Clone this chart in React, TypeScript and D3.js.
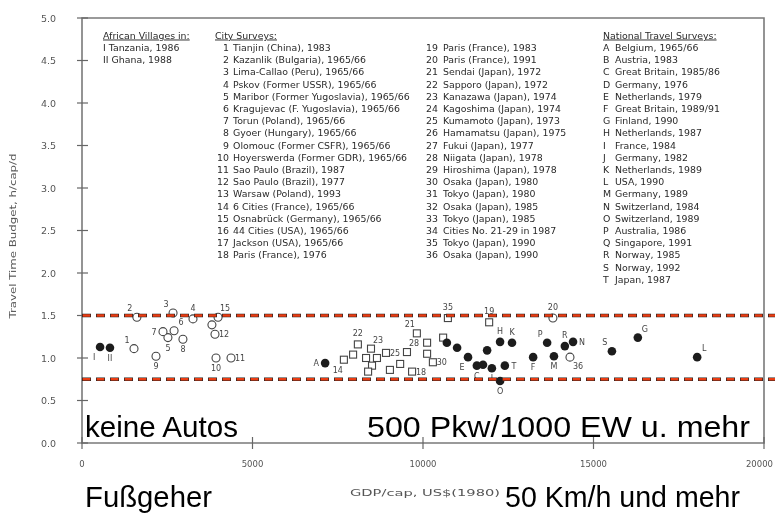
import React from 'react';
import * as d3 from 'd3';

// axis ticks
const yTicks = [0, 0.5, 1, 1.5, 2, 2.5, 3, 3.5, 4, 4.5, 5];
const xTicks = [0, 5000, 10000, 15000, 20000];
const bandLines = [1.5, 0.75];

// African villages (filled)
const villages = [
  { id: 'I', gdp: 530, ttb: 1.13 },
  { id: 'II', gdp: 820, ttb: 1.12 },
];

// city surveys drawn as open circles
const cityCircles = [
  { id: '1', gdp: 1525, ttb: 1.11 },
  { id: '2', gdp: 1610, ttb: 1.48 },
  { id: '3', gdp: 2670, ttb: 1.53 },
  { id: '4', gdp: 3255, ttb: 1.46 },
  { id: '5', gdp: 2520, ttb: 1.24 },
  { id: '6', gdp: 2700, ttb: 1.32 },
  { id: '7', gdp: 2375, ttb: 1.31 },
  { id: '8', gdp: 2960, ttb: 1.22 },
  { id: '9', gdp: 2170, ttb: 1.02 },
  { id: '10', gdp: 3930, ttb: 1.0 },
  { id: '11', gdp: 4370, ttb: 1.0 },
  { id: '12', gdp: 3900, ttb: 1.28 },
  { id: '13', gdp: 3810, ttb: 1.39 },
  { id: '15', gdp: 3990, ttb: 1.48 },
  { id: '20', gdp: 13810, ttb: 1.47 },
  { id: '36', gdp: 14310, ttb: 1.01 },
];

// city surveys drawn as open squares
const citySquares = [
  { id: '14', gdp: 7680, ttb: 0.98 },
  { id: '16', gdp: 9030, ttb: 0.86 },
  { id: '17', gdp: 7950, ttb: 1.04 },
  { id: '18', gdp: 9680, ttb: 0.84 },
  { id: '19', gdp: 11940, ttb: 1.42 },
  { id: '21', gdp: 9820, ttb: 1.29 },
  { id: '22', gdp: 8090, ttb: 1.16 },
  { id: '23', gdp: 8475, ttb: 1.11 },
  { id: '24', gdp: 8330, ttb: 1.0 },
  { id: '25', gdp: 8915, ttb: 1.06 },
  { id: '26', gdp: 8505, ttb: 0.91 },
  { id: '27', gdp: 8650, ttb: 1.0 },
  { id: '28', gdp: 9530, ttb: 1.07 },
  { id: '29', gdp: 8390, ttb: 0.84 },
  { id: '30', gdp: 10290, ttb: 0.95 },
  { id: '31', gdp: 9330, ttb: 0.93 },
  { id: '32', gdp: 10120, ttb: 1.18 },
  { id: '33', gdp: 10120, ttb: 1.05 },
  { id: '34', gdp: 10590, ttb: 1.24 },
  { id: '35', gdp: 10730, ttb: 1.47 },
];

// national travel surveys (filled circles)
const nationalSurveys = [
  { id: 'A', gdp: 7130, ttb: 0.94 },
  { id: 'B', gdp: 10700, ttb: 1.18 },
  { id: 'C', gdp: 11580, ttb: 0.91 },
  { id: 'D', gdp: 11000, ttb: 1.12 },
  { id: 'E', gdp: 11320, ttb: 1.01 },
  { id: 'F', gdp: 13230, ttb: 1.01 },
  { id: 'G', gdp: 16300, ttb: 1.24 },
  { id: 'H', gdp: 12260, ttb: 1.19 },
  { id: 'I', gdp: 12020, ttb: 0.88 },
  { id: 'J', gdp: 11880, ttb: 1.09 },
  { id: 'K', gdp: 12610, ttb: 1.18 },
  { id: 'L', gdp: 18040, ttb: 1.01 },
  { id: 'M', gdp: 13840, ttb: 1.02 },
  { id: 'N', gdp: 14400, ttb: 1.19 },
  { id: 'O', gdp: 12260, ttb: 0.73 },
  { id: 'P', gdp: 13640, ttb: 1.18 },
  { id: 'Q', gdp: 11760, ttb: 0.92 },
  { id: 'R', gdp: 14160, ttb: 1.14 },
  { id: 'S', gdp: 15540, ttb: 1.08 },
  { id: 'T', gdp: 12400, ttb: 0.91 },
];

// where each point label sits (missing = no label)
const labelSide: Record<string, string> = {
  'v:I': 'sw', 'v:II': 's',
  'c:1': 'nw', 'c:2': 'nw', 'c:3': 'nw', 'c:4': 'n', 'c:5': 's', 'c:6': 'ne', 'c:7': 'w',
  'c:8': 's', 'c:9': 's', 'c:10': 's', 'c:11': 'e', 'c:12': 'e', 'c:15': 'ne', 'c:20': 'n', 'c:36': 'se',
  's:14': 'sw', 's:18': 'e', 's:19': 'n', 's:21': 'nw', 's:22': 'n', 's:23': 'ne', 's:25': 'e',
  's:28': 'ne', 's:30': 'e', 's:35': 'n',
  'n:A': 'w', 'n:C': 's', 'n:E': 'sw', 'n:F': 's', 'n:G': 'ne', 'n:H': 'n', 'n:I': 's', 'n:K': 'n',
  'n:L': 'ne', 'n:M': 's', 'n:N': 'e', 'n:O': 's', 'n:P': 'nw', 'n:R': 'n', 'n:S': 'nw', 'n:T': 'e',
};
const offsets: Record<string, [number, number]> = {
  n: [0, -8], s: [0, 13], e: [9, 3], w: [-9, 3],
  ne: [7, -6], nw: [-7, -6], se: [8, 12], sw: [-6, 13],
};

// legend text
const villageLegend = ['I  Tanzania, 1986', 'II Ghana, 1988'];
const cityLegendA = [
  'Tianjin (China), 1983', 'Kazanlik (Bulgaria), 1965/66', 'Lima-Callao (Peru), 1965/66',
  'Pskov (Former USSR), 1965/66', 'Maribor (Former Yugoslavia), 1965/66',
  'Kragujevac (F. Yugoslavia), 1965/66', 'Torun (Poland), 1965/66', 'Gyoer (Hungary), 1965/66',
  'Olomouc (Former CSFR), 1965/66', 'Hoyerswerda (Former GDR), 1965/66', 'Sao Paulo (Brazil), 1987',
  'Sao Paulo (Brazil), 1977', 'Warsaw (Poland), 1993', '6 Cities (France), 1965/66',
  'Osnabrück (Germany), 1965/66', '44 Cities (USA), 1965/66', 'Jackson (USA), 1965/66',
  'Paris (France), 1976',
];
const cityLegendB = [
  'Paris (France), 1983', 'Paris (France), 1991', 'Sendai (Japan), 1972', 'Sapporo (Japan), 1972',
  'Kanazawa (Japan), 1974', 'Kagoshima (Japan), 1974', 'Kumamoto (Japan), 1973',
  'Hamamatsu (Japan), 1975', 'Fukui (Japan), 1977', 'Niigata (Japan), 1978',
  'Hiroshima (Japan), 1978', 'Osaka (Japan), 1980', 'Tokyo (Japan), 1980', 'Osaka (Japan), 1985',
  'Tokyo (Japan), 1985', 'Cities No. 21-29 in 1987', 'Tokyo (Japan), 1990', 'Osaka (Japan), 1990',
];
const nationalLegend = [
  'Belgium, 1965/66', 'Austria, 1983', 'Great Britain, 1985/86', 'Germany, 1976',
  'Netherlands, 1979', 'Great Britain, 1989/91', 'Finland, 1990', 'Netherlands, 1987',
  'France, 1984', 'Germany, 1982', 'Netherlands, 1989', 'USA, 1990', 'Germany, 1989',
  'Switzerland, 1984', 'Switzerland, 1989', 'Australia, 1986', 'Singapore, 1991',
  'Norway, 1985', 'Norway, 1992', 'Japan, 1987',
];
const nationalKeys = 'ABCDEFGHIJKLMNOPQRST'.split('');

const W = 775;
const H = 517;
const sans = '"Liberation Sans", Arial, sans-serif';
const small = '"DejaVu Sans", Verdana, sans-serif';

const App = () => {
  const x = d3.scaleLinear().domain([0, 20000]).range([82, 764]);
  const y = d3.scaleLinear().domain([0, 5]).range([443, 18]);
  const ink = '#2a2a2a';
  const rowY = (i: number) => 47.5 + i * 12.2 + 3.4;

  const pointLabel = (key: string, id: string, cx: number, cy: number) => {
    const side = labelSide[key];
    if (!side) return null;
    const [dx, dy] = offsets[side];
    return (
      <text key={key + '-l'} x={cx + dx} y={cy + dy} fontSize={8} textAnchor="middle" fill="#444">
        {id}
      </text>
    );
  };

  return (
    <div style={{ position: 'absolute', left: 0, top: 0 }}>
      <svg width={W} height={H} style={{ display: 'block', background: '#fff' }} fontFamily={sans}>
        <defs>
          <filter id="scan" x="-5%" y="-5%" width="110%" height="110%">
            <feGaussianBlur stdDeviation="0.45" />
          </filter>
        </defs>

        <g filter="url(#scan)" fontFamily={small}>
          {/* frame and axes */}
          <path d={`M${x(0)},${y(0)} V${y(5)} H${x(20000)} V${y(0)} Z`} fill="none" stroke="#7a7a7a" strokeWidth={1.6} />
          {yTicks.map(t => (
            <g key={'yt' + t}>
              <line x1={x(0) - 5} x2={x(0) + 6} y1={y(t)} y2={y(t)} stroke="#666" strokeWidth={1.2} />
              <text x={56} y={y(t) + 3.5} fontSize={9.5} textAnchor="end" fill="#555">{t.toFixed(1)}</text>
            </g>
          ))}
          {xTicks.map((t, i) => (
            <g key={'xt' + t}>
              <line x1={x(t)} x2={x(t)} y1={y(0) - 6} y2={y(0) + 6} stroke="#666" strokeWidth={1.2} />
              <text x={i === xTicks.length - 1 ? W - 2 : x(t)} y={y(0) + 24} fontSize={8.5}
                textAnchor={i === xTicks.length - 1 ? 'end' : 'middle'} fill="#555">{t}</text>
            </g>
          ))}
          <text transform={`translate(16,${236}) rotate(-90)`} fontSize={8.5} textAnchor="middle" fill="#555"
            textLength={165} lengthAdjust="spacingAndGlyphs">
            Travel Time Budget, h/cap/d
          </text>
          <text x={350} y={496} fontSize={8.5} fill="#555" textLength={150} lengthAdjust="spacingAndGlyphs">
            GDP/cap, US$(1980)
          </text>

          {/* legend blocks */}
          <g fontSize={9.4} fill={ink}>
            <text x={103} y={38.5} textDecoration="underline">African Villages in:</text>
            {villageLegend.map((t, i) => (
              <text key={'vl' + i} x={103} y={rowY(i)}>{t}</text>
            ))}
            <text x={215} y={38.5} textDecoration="underline">City Surveys:</text>
            {cityLegendA.map((t, i) => (
              <g key={'ca' + i}>
                <text x={229} y={rowY(i)} textAnchor="end">{i + 1}</text>
                <text x={233} y={rowY(i)}>{t}</text>
              </g>
            ))}
            {cityLegendB.map((t, i) => (
              <g key={'cb' + i}>
                <text x={438} y={rowY(i)} textAnchor="end">{i + 19}</text>
                <text x={443} y={rowY(i)}>{t}</text>
              </g>
            ))}
            <text x={603} y={38.5} textDecoration="underline">National Travel Surveys:</text>
            {nationalLegend.map((t, i) => (
              <g key={'nl' + i}>
                <text x={603} y={rowY(i)}>{nationalKeys[i]}</text>
                <text x={615} y={rowY(i)}>{t}</text>
              </g>
            ))}
          </g>

          {/* data points */}
          {citySquares.map(d => (
            <g key={'s' + d.id}>
              <rect x={x(d.gdp) - 3.5} y={y(d.ttb) - 3.5} width={7} height={7} fill="#fff" stroke="#444" strokeWidth={1.1} />
              {pointLabel('s:' + d.id, d.id, x(d.gdp), y(d.ttb))}
            </g>
          ))}
          {cityCircles.map(d => (
            <g key={'c' + d.id}>
              <circle cx={x(d.gdp)} cy={y(d.ttb)} r={4} fill="#fff" stroke="#444" strokeWidth={1.1} />
              {pointLabel('c:' + d.id, d.id, x(d.gdp), y(d.ttb))}
            </g>
          ))}
          {nationalSurveys.map(d => (
            <g key={'n' + d.id}>
              <circle cx={x(d.gdp)} cy={y(d.ttb)} r={4.3} fill="#1e1e1e" />
              {pointLabel('n:' + d.id, d.id, x(d.gdp), y(d.ttb))}
            </g>
          ))}
          {villages.map(d => (
            <g key={'v' + d.id}>
              <circle cx={x(d.gdp)} cy={y(d.ttb)} r={4.3} fill="#1e1e1e" />
              {pointLabel('v:' + d.id, d.id, x(d.gdp), y(d.ttb))}
            </g>
          ))}
        </g>

        {/* dashed band limits */}
        {bandLines.map(v => (
          <g key={'b' + v}>
            <line x1={x(0)} x2={W} y1={y(v)} y2={y(v)} stroke="#222" strokeWidth={3.4} strokeDasharray="9,5" />
            <line x1={x(0) + 0.7} x2={W} y1={y(v)} y2={y(v)} stroke="#ea3c12" strokeWidth={2.4} strokeDasharray="7.6,6.4" />
          </g>
        ))}

        {/* overlay annotations */}
        <g fontSize={29} fill="#000">
          <text x={85} y={437} textLength={153} lengthAdjust="spacingAndGlyphs">keine Autos</text>
          <text x={367} y={437} textLength={383} lengthAdjust="spacingAndGlyphs">500 Pkw/1000 EW u. mehr</text>
          <text x={85} y={507} textLength={127} lengthAdjust="spacingAndGlyphs">Fußgeher</text>
          <text x={505} y={507} textLength={235} lengthAdjust="spacingAndGlyphs">50 Km/h und mehr</text>
        </g>
      </svg>
    </div>
  );
};

export default App;
